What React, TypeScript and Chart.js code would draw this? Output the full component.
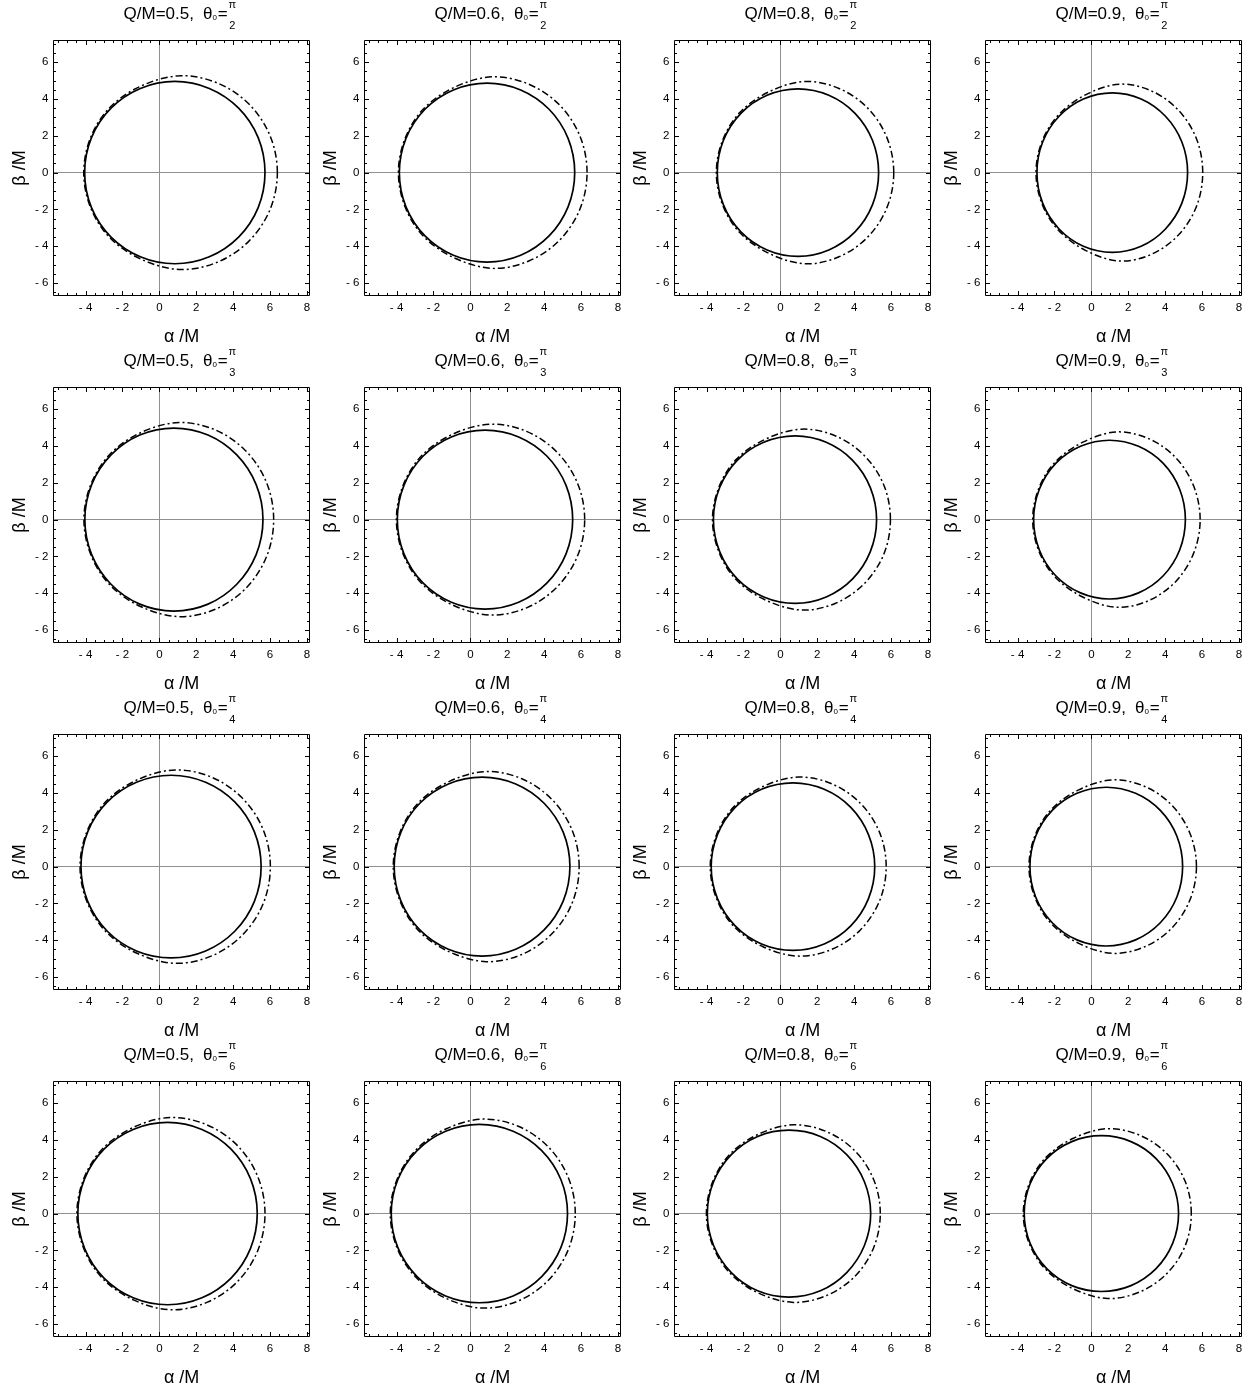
import React, { useEffect, useRef } from 'react';
import { Chart, registerables } from 'chart.js';

Chart.register(...registerables);

const FONT = "'Liberation Sans', Arial, sans-serif";

// panel labels
const Q_LABELS = ['0.5', '0.6', '0.8', '0.9'];
const THETA_DENOMINATORS = ['2', '3', '4', '6'];

// axes
const X_RANGE = [-5.75, 8.17];
const Y_RANGE = [-6.7, 7.2];
const X_TICKS = [-4, -2, 0, 2, 4, 6, 8];
const X_TICK_LABELS = ['- 4', '- 2', '0', '2', '4', '6', '8'];
const Y_TICKS = [-6, -4, -2, 0, 2, 4, 6];
const Y_TICK_LABELS = ['- 6', '- 4', '- 2', '0', '2', '4', '6'];

// Upper half of each shadow outline (α, β), from the right edge over the top to the left edge.
// One entry per Q/M value, in the order of Q_LABELS.
const SOLID_THETA_PI_2 = [
  [[5.73, 0], [5.36, 1.90], [4.30, 3.50], [2.71, 4.57], [0.84, 4.95], [-1.03, 4.57], [-2.62, 3.50], [-3.68, 1.90], [-4.05, 0]],
  [[5.66, 0], [5.30, 1.86], [4.27, 3.44], [2.73, 4.49], [0.91, 4.86], [-0.92, 4.49], [-2.46, 3.44], [-3.49, 1.86], [-3.85, 0]],
  [[5.33, 0], [5.00, 1.74], [4.05, 3.22], [2.63, 4.20], [0.96, 4.55], [-0.72, 4.20], [-2.14, 3.22], [-3.09, 1.74], [-3.42, 0]],
  [[5.22, 0], [4.91, 1.66], [4.02, 3.06], [2.70, 4.00], [1.14, 4.33], [-0.43, 4.00], [-1.75, 3.06], [-2.64, 1.66], [-2.95, 0]],
];
const DASHED_THETA_PI_2 = [
  [[6.40, 0], [6.00, 2.01], [4.86, 3.72], [3.16, 4.86], [1.15, 5.26], [-0.95, 4.72], [-2.67, 3.55], [-3.72, 1.92], [-4.10, 0]],
  [[6.33, 0], [5.94, 1.99], [4.83, 3.68], [3.17, 4.80], [1.22, 5.20], [-0.83, 4.65], [-2.51, 3.49], [-3.53, 1.88], [-3.90, 0]],
  [[6.15, 0], [5.78, 1.90], [4.74, 3.50], [3.18, 4.57], [1.34, 4.95], [-0.61, 4.39], [-2.19, 3.27], [-3.13, 1.76], [-3.47, 0]],
  [[6.04, 0], [5.70, 1.84], [4.72, 3.39], [3.25, 4.44], [1.52, 4.80], [-0.32, 4.22], [-1.80, 3.11], [-2.68, 1.68], [-3.00, 0]],
];
const SOLID_THETA_PI_3 = [
  [[5.62, 0], [5.25, 1.90], [4.20, 3.51], [2.64, 4.59], [0.79, 4.97], [-1.06, 4.59], [-2.62, 3.51], [-3.67, 1.90], [-4.04, 0]],
  [[5.55, 0], [5.19, 1.86], [4.16, 3.44], [2.62, 4.49], [0.80, 4.86], [-1.03, 4.49], [-2.57, 3.44], [-3.60, 1.86], [-3.96, 0]],
  [[5.22, 0], [4.88, 1.74], [3.92, 3.22], [2.49, 4.20], [0.80, 4.55], [-0.90, 4.20], [-2.34, 3.22], [-3.29, 1.74], [-3.63, 0]],
  [[5.10, 0], [4.79, 1.65], [3.90, 3.05], [2.56, 3.98], [0.99, 4.31], [-0.59, 3.98], [-1.93, 3.05], [-2.82, 1.65], [-3.13, 0]],
];
const DASHED_THETA_PI_3 = [
  [[6.20, 0], [5.81, 2.02], [4.69, 3.73], [3.03, 4.87], [1.06, 5.27], [-0.99, 4.73], [-2.67, 3.56], [-3.71, 1.92], [-4.09, 0]],
  [[6.20, 0], [5.81, 1.98], [4.70, 3.66], [3.05, 4.79], [1.10, 5.18], [-0.95, 4.64], [-2.62, 3.49], [-3.64, 1.88], [-4.01, 0]],
  [[5.97, 0], [5.61, 1.88], [4.56, 3.47], [3.00, 4.54], [1.15, 4.91], [-0.80, 4.37], [-2.39, 3.27], [-3.33, 1.76], [-3.68, 0]],
  [[5.90, 0], [5.55, 1.82], [4.57, 3.37], [3.10, 4.40], [1.36, 4.76], [-0.49, 4.19], [-1.98, 3.10], [-2.86, 1.67], [-3.18, 0]],
];
const SOLID_THETA_PI_4 = [
  [[5.52, 0], [5.15, 1.90], [4.09, 3.51], [2.51, 4.58], [0.64, 4.96], [-1.24, 4.58], [-2.82, 3.51], [-3.88, 1.90], [-4.25, 0]],
  [[5.40, 0], [5.04, 1.86], [4.00, 3.44], [2.46, 4.49], [0.64, 4.86], [-1.19, 4.49], [-2.74, 3.44], [-3.77, 1.86], [-4.13, 0]],
  [[5.12, 0], [4.78, 1.74], [3.82, 3.22], [2.38, 4.20], [0.69, 4.55], [-1.02, 4.20], [-2.45, 3.22], [-3.41, 1.74], [-3.75, 0]],
  [[4.95, 0], [4.64, 1.65], [3.74, 3.05], [2.40, 3.98], [0.81, 4.31], [-0.78, 3.98], [-2.12, 3.05], [-3.02, 1.65], [-3.33, 0]],
];
const DASHED_THETA_PI_4 = [
  [[6.02, 0], [5.63, 2.01], [4.51, 3.71], [2.84, 4.85], [0.86, 5.25], [-1.18, 4.72], [-2.87, 3.56], [-3.92, 1.92], [-4.30, 0]],
  [[5.90, 0], [5.52, 1.98], [4.42, 3.65], [2.79, 4.77], [0.86, 5.16], [-1.13, 4.63], [-2.79, 3.49], [-3.81, 1.88], [-4.18, 0]],
  [[5.74, 0], [5.38, 1.86], [4.34, 3.44], [2.80, 4.49], [0.97, 4.86], [-0.94, 4.35], [-2.50, 3.27], [-3.45, 1.76], [-3.80, 0]],
  [[5.70, 0], [5.35, 1.80], [4.37, 3.33], [2.90, 4.35], [1.16, 4.71], [-0.68, 4.17], [-2.17, 3.10], [-3.06, 1.67], [-3.38, 0]],
];
const SOLID_THETA_PI_6 = [
  [[5.31, 0], [4.94, 1.90], [3.89, 3.50], [2.31, 4.57], [0.45, 4.95], [-1.42, 4.57], [-3.00, 3.50], [-4.05, 1.90], [-4.42, 0]],
  [[5.27, 0], [4.91, 1.85], [3.87, 3.42], [2.32, 4.47], [0.49, 4.84], [-1.34, 4.47], [-2.89, 3.42], [-3.93, 1.85], [-4.29, 0]],
  [[4.90, 0], [4.56, 1.73], [3.60, 3.20], [2.17, 4.19], [0.47, 4.53], [-1.23, 4.19], [-2.66, 3.20], [-3.62, 1.73], [-3.96, 0]],
  [[4.73, 0], [4.41, 1.62], [3.51, 2.99], [2.15, 3.91], [0.55, 4.23], [-1.06, 3.91], [-2.42, 2.99], [-3.32, 1.62], [-3.64, 0]],
];
const DASHED_THETA_PI_6 = [
  [[5.73, 0], [5.34, 2.00], [4.24, 3.69], [2.58, 4.82], [0.63, 5.22], [-1.37, 4.70], [-3.05, 3.55], [-4.09, 1.92], [-4.47, 0]],
  [[5.69, 0], [5.31, 1.96], [4.22, 3.63], [2.60, 4.74], [0.68, 5.13], [-1.30, 4.61], [-2.94, 3.47], [-3.97, 1.87], [-4.34, 0]],
  [[5.42, 0], [5.06, 1.85], [4.04, 3.41], [2.51, 4.45], [0.71, 4.82], [-1.17, 4.32], [-2.71, 3.25], [-3.66, 1.75], [-4.01, 0]],
  [[5.42, 0], [5.08, 1.77], [4.09, 3.26], [2.61, 4.26], [0.87, 4.61], [-0.97, 4.09], [-2.47, 3.04], [-3.36, 1.64], [-3.69, 0]],
];

const SOLID_ROWS = [SOLID_THETA_PI_2, SOLID_THETA_PI_3, SOLID_THETA_PI_4, SOLID_THETA_PI_6];
const DASHED_ROWS = [DASHED_THETA_PI_2, DASHED_THETA_PI_3, DASHED_THETA_PI_4, DASHED_THETA_PI_6];

// Closed outline: upper half + mirrored lower half; one wrap-around point on each end
// so the spline is smooth at the join (the wrap segments are drawn transparent).
function closedOutline(upper: number[][]) {
  const lower = upper.slice(1, -1).reverse().map(([a, b]) => [a, -b]);
  const loop = [...upper, ...lower];
  const n = loop.length;
  const seq = [loop[n - 1], ...loop, loop[0], loop[1]];
  return seq.map(([x, y]) => ({ x, y }));
}

const COL_STEP = 310.5;
const ROW_STEP = 346.9;
const CW = 316;
const CH = 354;

function makeTitlePlugin(q: string, denom: string) {
  return {
    id: 'panelTitle',
    afterDraw(chart: any) {
      const { ctx, chartArea: a } = chart;
      ctx.save();
      ctx.fillStyle = '#000';
      ctx.textBaseline = 'alphabetic';
      ctx.textAlign = 'left';
      const main = `Q/M=${q},`;
      ctx.font = `17px ${FONT}`;
      const wMain = ctx.measureText(main).width;
      const wTheta = ctx.measureText('θ').width;
      const wEq = ctx.measureText('=').width;
      ctx.font = `8px ${FONT}`;
      const wSub = ctx.measureText('0').width;
      const gap = 9;
      const fracW = 7;
      const total = wMain + gap + wTheta + wSub + 1 + wEq + 1 + fracW;
      let x = (a.left + a.right) / 2 - 2 - total / 2;
      const base = 18.5;
      ctx.font = `17px ${FONT}`;
      ctx.fillText(main, x, base);
      x += wMain + gap;
      ctx.fillText('θ', x, base);
      x += wTheta;
      ctx.font = `8px ${FONT}`;
      ctx.fillText('0', x, base + 1);
      x += wSub + 1;
      ctx.font = `17px ${FONT}`;
      ctx.fillText('=', x, base);
      x += wEq + 1;
      ctx.textAlign = 'center';
      ctx.font = `11px ${FONT}`;
      ctx.fillText('π', x + fracW / 2, 7.5);
      ctx.fillText(denom, x + fracW / 2, 29);
      ctx.restore();
    },
  };
}

const framePlugin = {
  id: 'frameTicks',
  afterDraw(chart: any) {
    const { ctx, chartArea: a, scales } = chart;
    const xs = scales.x;
    const ys = scales.y;
    ctx.save();
    ctx.strokeStyle = '#000';
    ctx.lineWidth = 1;
    ctx.beginPath();
    const L = Math.round(a.left) + 0.5;
    const R = Math.round(a.right) - 0.5;
    const T = Math.round(a.top) + 0.5;
    const B = Math.round(a.bottom) - 0.5;
    ctx.rect(L, T, R - L, B - T);
    for (let k = Math.ceil(xs.min * 2); k <= Math.floor(xs.max * 2); k++) {
      const len = k % 4 === 0 ? 4.5 : 2.5;
      const px = Math.round(xs.getPixelForValue(k / 2)) + 0.5;
      ctx.moveTo(px, B);
      ctx.lineTo(px, B - len);
      ctx.moveTo(px, T);
      ctx.lineTo(px, T + len);
    }
    for (let k = Math.ceil(ys.min * 2); k <= Math.floor(ys.max * 2); k++) {
      const len = k % 4 === 0 ? 4.5 : 2.5;
      const py = Math.round(ys.getPixelForValue(k / 2)) + 0.5;
      ctx.moveTo(L, py);
      ctx.lineTo(L + len, py);
      ctx.moveTo(R, py);
      ctx.lineTo(R - len, py);
    }
    ctx.stroke();
    ctx.restore();
  },
};

function Panel({ row, col }: { row: number; col: number }) {
  const ref = useRef<HTMLCanvasElement>(null);
  useEffect(() => {
    if (!ref.current) return;
    const solid = closedOutline(SOLID_ROWS[row][col]);
    const dashed = closedOutline(DASHED_ROWS[row][col]);
    const hideWrap = (n: number) => (c: any) =>
      c.p0DataIndex === 0 || c.p1DataIndex === n - 1 ? 'rgba(0,0,0,0)' : undefined;
    const chart = new Chart(ref.current, {
      type: 'line',
      data: {
        datasets: [
          {
            data: dashed,
            borderColor: '#000',
            borderWidth: 1.5,
            borderDash: [7, 3, 2, 3],
            tension: 0.34,
            pointRadius: 0,
            fill: false,
            segment: { borderColor: hideWrap(dashed.length) },
          },
          {
            data: solid,
            borderColor: '#000',
            borderWidth: 1.7,
            tension: 0.34,
            pointRadius: 0,
            fill: false,
            segment: { borderColor: hideWrap(solid.length) },
          },
        ],
      },
      options: {
        animation: false,
        responsive: false,
        events: [],
        layout: { padding: { left: 0, top: 40, right: CW - 310, bottom: CH - 296 - 52 } },
        plugins: { legend: { display: false }, tooltip: { enabled: false }, title: { display: false } },
        scales: {
          x: {
            type: 'linear',
            min: X_RANGE[0],
            max: X_RANGE[1],
            afterBuildTicks: (s: any) => {
              s.ticks = X_TICKS.map((v) => ({ value: v }));
            },
            afterFit: (s: any) => {
              s.height = 52;
            },
            ticks: {
              autoSkip: false,
              maxRotation: 0,
              padding: 5,
              color: '#000',
              font: { family: FONT, size: 11.5 },
              callback: (v: any) => X_TICK_LABELS[X_TICKS.indexOf(Number(v))],
            },
            grid: {
              drawTicks: false,
              lineWidth: 1,
              color: (c: any) => (c.tick && c.tick.value === 0 ? '#909090' : 'rgba(0,0,0,0)'),
            },
            border: { display: false },
            title: {
              display: true,
              text: 'α /M',
              color: '#000',
              font: { family: FONT, size: 18 },
              padding: { top: 0, bottom: 0 },
            },
          },
          y: {
            type: 'linear',
            min: Y_RANGE[0],
            max: Y_RANGE[1],
            afterBuildTicks: (s: any) => {
              s.ticks = Y_TICKS.map((v) => ({ value: v }));
            },
            afterFit: (s: any) => {
              s.width = 53.3;
            },
            ticks: {
              autoSkip: false,
              padding: 5,
              color: '#000',
              font: { family: FONT, size: 11.5 },
              callback: (v: any) => Y_TICK_LABELS[Y_TICKS.indexOf(Number(v))],
            },
            grid: {
              drawTicks: false,
              lineWidth: 1,
              color: (c: any) => (c.tick && c.tick.value === 0 ? '#909090' : 'rgba(0,0,0,0)'),
            },
            border: { display: false },
            title: {
              display: true,
              text: 'β /M',
              color: '#000',
              font: { family: FONT, size: 18 },
              padding: { top: 9, bottom: 0 },
            },
          },
        },
      } as any,
      plugins: [framePlugin, makeTitlePlugin(Q_LABELS[col], THETA_DENOMINATORS[row])],
    });
    return () => chart.destroy();
  }, [row, col]);
  return (
    <div
      style={{
        position: 'absolute',
        left: Math.round(col * COL_STEP),
        top: Math.round(row * ROW_STEP),
        width: CW,
        height: CH,
      }}
    >
      <canvas ref={ref} width={CW} height={CH} style={{ width: CW, height: CH, display: 'block' }} />
    </div>
  );
}

export default function App() {
  const cells = [];
  for (let r = 0; r < 4; r++) {
    for (let c = 0; c < 4; c++) {
      cells.push(<Panel key={`${r}-${c}`} row={r} col={c} />);
    }
  }
  return (
    <div style={{ position: 'absolute', left: 0, top: 0, width: 1254, height: 1396, background: '#fff' }}>
      {cells}
    </div>
  );
}
